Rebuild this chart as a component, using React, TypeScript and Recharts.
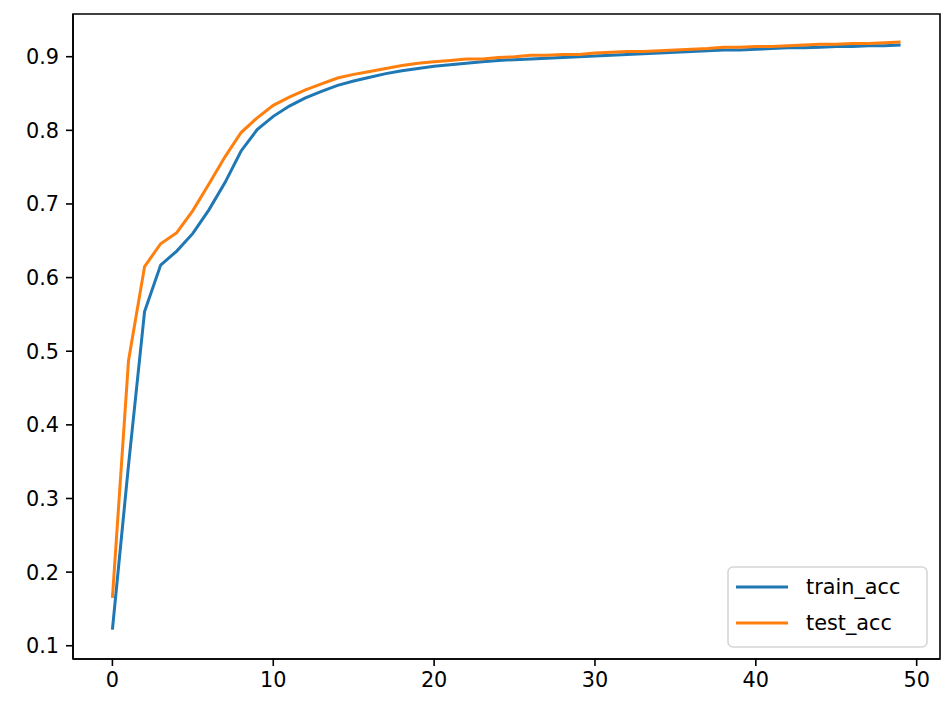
import React from 'react';
import { LineChart, Line, XAxis, YAxis, ReferenceArea, Legend } from 'recharts';

const epochs = Array.from({ length: 50 }, (_, i) => i);

const trainAcc = [
  0.122, 0.345, 0.554, 0.617, 0.636, 0.660, 0.692, 0.729, 0.772, 0.801,
  0.819, 0.833, 0.844, 0.853, 0.861, 0.867, 0.872, 0.877, 0.881, 0.884,
  0.887, 0.889, 0.891, 0.893, 0.895, 0.896, 0.897, 0.898, 0.899, 0.900,
  0.901, 0.902, 0.903, 0.904, 0.905, 0.906, 0.907, 0.908, 0.909, 0.909,
  0.910, 0.911, 0.912, 0.912, 0.913, 0.914, 0.914, 0.915, 0.915, 0.916,
];

const testAcc = [
  0.165, 0.487, 0.615, 0.646, 0.661, 0.691, 0.727, 0.764, 0.797, 0.817,
  0.834, 0.845, 0.855, 0.863, 0.871, 0.876, 0.880, 0.884, 0.888, 0.891,
  0.893, 0.895, 0.897, 0.897, 0.899, 0.900, 0.902, 0.902, 0.903, 0.903,
  0.905, 0.906, 0.907, 0.907, 0.908, 0.909, 0.910, 0.911, 0.913, 0.913,
  0.914, 0.914, 0.915, 0.916, 0.917, 0.917, 0.918, 0.918, 0.919, 0.920,
];

const xTicks = [0, 10, 20, 30, 40, 50];
const yTicks = [0.1, 0.2, 0.3, 0.4, 0.5, 0.6, 0.7, 0.8, 0.9];

const seriesNames = { train: 'train_acc', test: 'test_acc' };

const data = epochs.map((e, i) => ({ epoch: e, train: trainAcc[i], test: testAcc[i] }));

const X_DOMAIN: [number, number] = [-2.45, 51.45];
const Y_DOMAIN: [number, number] = [0.082, 0.958];

const FONT = '"DejaVu Sans", sans-serif';

const LegendBox = () => (
  <svg width={202} height={82} style={{ display: 'block' }}>
    <rect x={1} y={1} width={199} height={80} rx={5} ry={5} fill="#ffffff" fillOpacity={0.8} stroke="#d6d6d6" strokeWidth={1.6} />
    <line x1={9} x2={61} y1={21} y2={21} stroke="#1f77b4" strokeWidth={3} />
    <line x1={9} x2={61} y1={57} y2={57} stroke="#ff7f0e" strokeWidth={3} />
    <text x={79} y={21} dy="0.36em" fontSize={20.8} fontFamily={FONT} fill="#000">{seriesNames.train}</text>
    <text x={79} y={57} dy="0.36em" fontSize={20.8} fontFamily={FONT} fill="#000">{seriesNames.test}</text>
  </svg>
);

export default function App() {
  return (
    <div style={{ position: 'absolute', left: 0, top: 0, width: 951, height: 712, background: '#fff' }}>
      <LineChart
        width={951}
        height={712}
        data={data}
        margin={{ top: 14, right: 11, left: 0, bottom: 0 }}
      >
        <XAxis
          dataKey="epoch"
          type="number"
          domain={X_DOMAIN}
          allowDataOverflow
          ticks={xTicks}
          height={53}
          tickSize={7}
          tickMargin={6}
          axisLine={{ stroke: '#000', strokeWidth: 1.6 }}
          tickLine={{ stroke: '#000', strokeWidth: 1.6 }}
          tick={{ fill: '#000', fontSize: 20.8, fontFamily: FONT }}
        />
        <YAxis
          type="number"
          domain={Y_DOMAIN}
          allowDataOverflow
          ticks={yTicks}
          width={73}
          tickSize={7}
          tickMargin={7}
          tickFormatter={(v: number) => v.toFixed(1)}
          axisLine={{ stroke: '#000', strokeWidth: 1.6 }}
          tickLine={{ stroke: '#000', strokeWidth: 1.6 }}
          tick={{ fill: '#000', fontSize: 20.8, fontFamily: FONT }}
        />
        <ReferenceArea
          x1={X_DOMAIN[0]}
          x2={X_DOMAIN[1]}
          y1={Y_DOMAIN[0]}
          y2={Y_DOMAIN[1]}
          fill="none"
          stroke="#000"
          strokeWidth={1.6}
          ifOverflow="visible"
        />
        <Line
          type="linear"
          dataKey="train"
          name={seriesNames.train}
          stroke="#1f77b4"
          strokeWidth={3}
          dot={false}
          isAnimationActive={false}
        />
        <Line
          type="linear"
          dataKey="test"
          name={seriesNames.test}
          stroke="#ff7f0e"
          strokeWidth={3}
          dot={false}
          isAnimationActive={false}
        />
        <Legend
          layout="vertical"
          align="center"
          verticalAlign="middle"
          content={() => <LegendBox />}
          wrapperStyle={{ position: 'absolute', left: 727, top: 566, width: 202, height: 82 }}
        />
      </LineChart>
    </div>
  );
}
